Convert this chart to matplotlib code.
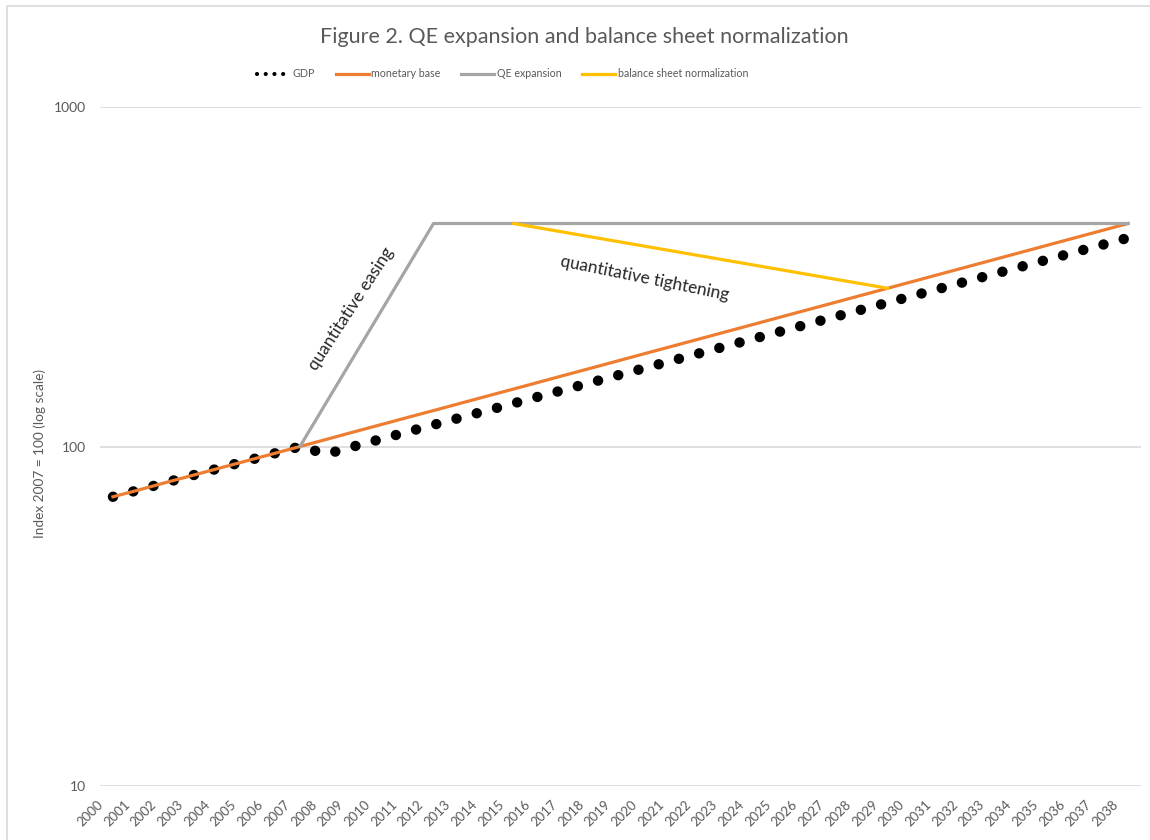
import numpy as np
import matplotlib
matplotlib.use("Agg")
import matplotlib.pyplot as plt
import matplotlib.transforms as mtransforms
from matplotlib.patches import Rectangle

plt.rcParams["font.family"] = ["Lato", "DejaVu Sans"]

# data (index 2007 = 100)
years = list(range(2000, 2039))
monetary_base = [71.1, 74.6, 78.4, 82.3, 86.4, 90.7, 95.2, 100.0, 105.0, 110.3,
                 115.8, 121.6, 127.6, 134.0, 140.7, 147.7, 155.1, 162.9, 171.0, 179.6,
                 188.6, 198.0, 207.9, 218.3, 229.2, 240.7, 252.7, 265.3, 278.6, 292.5,
                 307.1, 322.5, 338.6, 355.5, 373.3, 392.0, 411.6, 432.2, 453.8]
gdp = [71.1, 74.6, 78.4, 82.3, 86.4, 90.7, 95.2, 100.0, 95.0, 100.0,
       105.0, 110.3, 115.8, 121.6, 127.6, 134.0, 140.7, 147.7, 155.1, 162.9,
       171.0, 179.6, 188.6, 198.0, 207.9, 218.3, 229.2, 240.7, 252.7, 265.3,
       278.6, 292.5, 307.1, 322.5, 338.6, 355.5, 373.3, 392.0, 411.6]
qe_years = list(range(2007, 2039))
qe_expansion = [100.0, 135.3, 183.1, 247.7, 335.2] + [453.8] * 27
bs_years = list(range(2015, 2030))
bs_normalization = [453.8, 439.8, 426.2, 413.0, 400.3, 387.9, 375.9, 364.3,
                    353.1, 342.2, 331.6, 321.4, 311.4, 301.8, 292.5]

ORANGE = "#ED7D31"
GRAY = "#A5A5A5"
YELLOW = "#FFC000"
TXT = "#595959"

fig = plt.figure(figsize=(11.5, 8.4), dpi=100)

# chart frame
fig.patches.append(Rectangle((7 / 1150, -0.1), 1.2, 0.1 + 834 / 840,
                             transform=fig.transFigure, fill=False,
                             edgecolor="#D9D9D9", linewidth=1.2))

ax = fig.add_axes([99.6 / 1150, 54 / 840, 1041.8 / 1150, 679 / 840])
x_idx = {y: i for i, y in enumerate(years)}

ax.plot([x_idx[y] for y in years], gdp, color="black", linewidth=7.5,
        linestyle=(0, (0.01, 2.0)), dash_capstyle="round", zorder=2, label="GDP")
ax.plot([x_idx[y] for y in years], monetary_base, color=ORANGE, linewidth=2.3,
        zorder=3, label="monetary base")
ax.plot([x_idx[y] for y in qe_years], qe_expansion, color=GRAY, linewidth=2.3,
        zorder=4, label="QE expansion")
ax.plot([x_idx[y] for y in bs_years], bs_normalization, color=YELLOW, linewidth=2.3,
        zorder=5, label="balance sheet normalization")

ax.set_yscale("log")
ax.set_ylim(10, 1000)
ax.set_xlim(-0.5, len(years) - 0.5)
ax.set_yticks([10, 100, 1000])
ax.set_yticklabels(["10", "100", "1000"])
ax.minorticks_off()
ax.yaxis.grid(True, color="#D9D9D9", linewidth=1.2)
ax.set_axisbelow(True)
for s in ax.spines.values():
    s.set_visible(False)
ax.tick_params(axis="y", length=0, pad=9.8, labelsize=10, labelcolor=TXT)
ax.set_xticks(range(len(years)))
ax.set_xticklabels([str(y) for y in years], rotation=45, ha="right",
                   rotation_mode="anchor", fontsize=9.5, color=TXT)
ax.tick_params(axis="x", length=0, pad=6)
shift = mtransforms.ScaledTranslation(-16 / 100, -4 / 100, fig.dpi_scale_trans)
for lbl in ax.get_xticklabels():
    lbl.set_transform(lbl.get_transform() + shift)

ax.set_ylabel("Index 2007 = 100 (log scale)", color=TXT, fontsize=9.8)
ax.yaxis.set_label_coords(-0.0515, 0.49)

# annotations
ax.text(8.93, 255, "quantitative easing", rotation=57,
        ha="center", va="center", fontsize=12.4, color="#262626")
ax.text(19.89, 313.5, "quantitative tightening", rotation=-11.5,
        ha="center", va="center", fontsize=12.4, color="#262626")

fig.text(0.508, 0.956, "Figure 2. QE expansion and balance sheet normalization",
         ha="center", va="center", fontsize=15.5, color=TXT)

leg = fig.legend(loc="center", bbox_to_anchor=(0.437, 0.912), ncol=4, frameon=False,
                 fontsize=7.7, handlelength=3.1, columnspacing=1.9, handletextpad=0.25,
                 labelcolor=TXT)
gdp_handle = leg.legend_handles[0]
gdp_handle.set_linewidth(3.0)
gdp_handle.set_linestyle((0, (0.01, 2.08)))

fig.savefig("out.png", dpi=100)
